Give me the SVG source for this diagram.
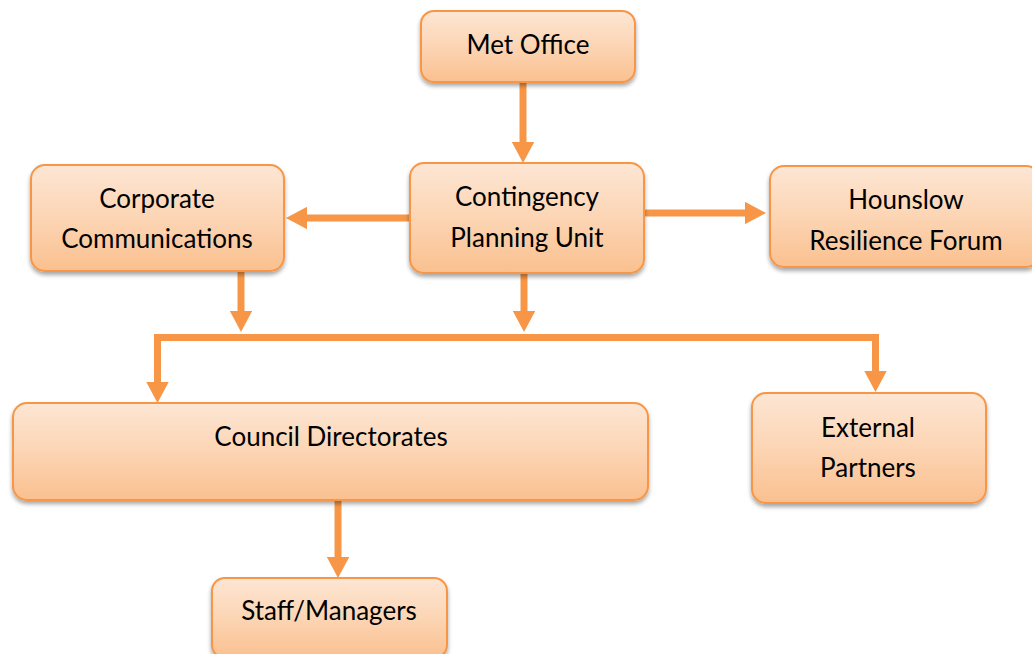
<svg xmlns="http://www.w3.org/2000/svg" width="1032" height="654" viewBox="0 0 1032 654">
<defs>
<linearGradient id="g" x1="0" y1="0" x2="0" y2="1">
<stop offset="0" stop-color="#FDE6D4"/>
<stop offset="0.5" stop-color="#FCD5B4"/>
<stop offset="1" stop-color="#FAC08F"/>
</linearGradient>
<filter id="sh" x="-10%" y="-10%" width="120%" height="130%">
<feGaussianBlur in="SourceAlpha" stdDeviation="2"/>
<feOffset dx="0" dy="3" result="b"/>
<feComponentTransfer><feFuncA type="linear" slope="0.35"/></feComponentTransfer>
<feMerge><feMergeNode/><feMergeNode in="SourceGraphic"/></feMerge>
</filter>
<marker id="ah" markerWidth="3" markerHeight="3.2" refX="0" refY="1.6" orient="auto" markerUnits="strokeWidth">
<path d="M0,0 L3,1.6 L0,3.2 Z" fill="#F79646"/>
</marker>
</defs>
<style>
.box{fill:url(#g);stroke:#F79646;stroke-width:2;filter:url(#sh)}
.t{font-family:Lato,"Open Sans","Liberation Sans",sans-serif;font-size:26px;fill:#000;text-anchor:middle}
.c{stroke:#F79646;stroke-width:7;fill:none}
.ca{stroke:#F79646;stroke-width:7;fill:none;marker-end:url(#ah)}
</style>
<g id="connectors">
<line class="ca" x1="523" y1="82" x2="523" y2="142"/>
<line class="ca" x1="410" y1="218" x2="307" y2="218"/>
<line class="ca" x1="644" y1="213" x2="745" y2="213"/>
<line class="ca" x1="241" y1="272" x2="241" y2="311"/>
<line class="ca" x1="524" y1="273" x2="524" y2="311"/>
<path class="c" d="M154,337.5 L879,337.5"/>
<line class="ca" x1="157.5" y1="334" x2="157.5" y2="382"/>
<line class="ca" x1="875.5" y1="334" x2="875.5" y2="371"/>
<line class="ca" x1="338" y1="501" x2="338" y2="557"/>
</g>
<g id="met-office">
<rect class="box" x="421" y="11" width="214" height="71" rx="13"/>
<text class="t" x="528" y="54">Met Office</text>
</g>
<g id="contingency">
<rect class="box" x="410" y="163" width="234" height="110" rx="14"/>
<text class="t" x="527" y="206">Contingency</text>
<text class="t" x="527" y="247">Planning Unit</text>
</g>
<g id="corporate">
<rect class="box" x="31" y="165" width="253" height="106" rx="14"/>
<text class="t" x="157" y="208">Corporate</text>
<text class="t" x="157" y="248">Communications</text>
</g>
<g id="hounslow">
<rect class="box" x="770" y="166" width="270" height="101" rx="14"/>
<text class="t" x="906" y="209">Hounslow</text>
<text class="t" x="906" y="250">Resilience Forum</text>
</g>
<g id="council">
<rect class="box" x="13" y="403" width="635" height="97" rx="14"/>
<text class="t" x="331" y="446">Council Directorates</text>
</g>
<g id="external">
<rect class="box" x="752" y="393" width="234" height="110" rx="14"/>
<text class="t" x="868" y="437">External</text>
<text class="t" x="868" y="477">Partners</text>
</g>
<g id="staff">
<rect class="box" x="212" y="578" width="235" height="80" rx="13"/>
<text class="t" x="329" y="620">Staff/Managers</text>
</g>
</svg>
